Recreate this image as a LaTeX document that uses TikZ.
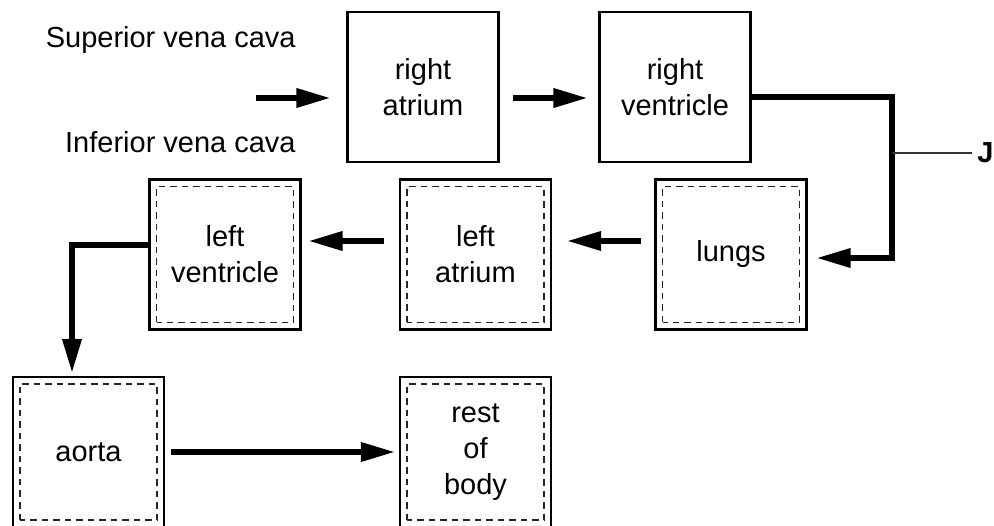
\documentclass[tikz,border=0pt]{standalone}
\usepackage{fontspec}
\setmainfont{Liberation Sans}
\usetikzlibrary{arrows.meta, positioning, calc}

\begin{document}
\begin{tikzpicture}[
    organ/.style={draw, line width=1.3pt, minimum width=3.02cm, minimum height=3cm, align=center, font=\fontsize{16.5}{20.5}\selectfont},
    lined/.style={organ, path picture={\draw[line width=0.75pt, black!85, dash pattern=on 0.13cm off 0.1cm] ([shift={(0.14,0.14)}]path picture bounding box.south west) rectangle ([shift={(-0.14,-0.14)}]path picture bounding box.north east);}},
    flow/.style={line width=3pt, -{Triangle[length=0.68cm, width=0.37cm]}},
    caption/.style={inner sep=0pt, font=\fontsize{16.5}{20.5}\selectfont}
]
    \useasboundingbox (0,0) rectangle (19.88,10.5);

    % Right side of the heart
    \node[organ] (ra) at (8.46,8.76) {right\\atrium};
    \node[organ] (rv) at (13.50,8.76) {right\\ventricle};

    % Lungs and left side
    \node[lined] (lungs) at (14.62,5.41) {lungs};
    \node[lined] (la) at (9.51,5.41) {left\\atrium};
    \node[lined] (lv) at (4.50,5.41) {left\\ventricle};

    % Out to the body
    \node[lined] (aorta) at (1.77,1.46) {aorta};
    \node[lined] (body) at (9.51,1.46) {rest\\of\\body};

    % Veins coming in
    \node[caption, anchor=base east] (svc) at (5.92,9.54) {Superior vena cava};
    \node[caption, anchor=base east] (ivc) at (5.92,7.44) {Inferior vena cava};

    % Helper points
    \coordinate (entry) at (5.12,8.54);
    \coordinate (loop) at (17.84,7.44);
    \coordinate (back) at ([yshift=-0.07cm]lungs.east);
    \coordinate (midrow) at (0,5.68);
    \coordinate (drop) at (1.44,5.60);

    % Label J
    \node[anchor=west, inner sep=0pt, font=\bfseries\fontsize{16.5}{20.5}\selectfont] (jlabel) at (19.54,7.44) {J};

    % Arrows
    \draw[flow, shorten >=0.32cm] (entry) -- (entry -| ra.west);
    \draw[flow, shorten <=0.26cm, shorten >=0.22cm] (ra.east |- entry) -- (rv.west |- entry);
    \draw[flow, shorten >=0.18cm] ([yshift=-0.2cm]rv.east) -| (loop |- back) -- (back);
    \draw[line width=0.6pt, black!80] (loop) -- ([xshift=-0.1cm]jlabel.west);
    \draw[flow, shorten <=0.26cm, shorten >=0.30cm] (lungs.west |- midrow) -- (la.east |- midrow);
    \draw[flow, shorten <=0.30cm, shorten >=0.14cm] (la.west |- midrow) -- (lv.east |- midrow);
    \draw[flow, shorten >=0.06cm] (lv.west |- drop) -| (drop |- aorta.north);
    \draw[flow, shorten <=0.12cm, shorten >=0.08cm] (aorta.east) -- (body.west);
\end{tikzpicture}
\end{document}
